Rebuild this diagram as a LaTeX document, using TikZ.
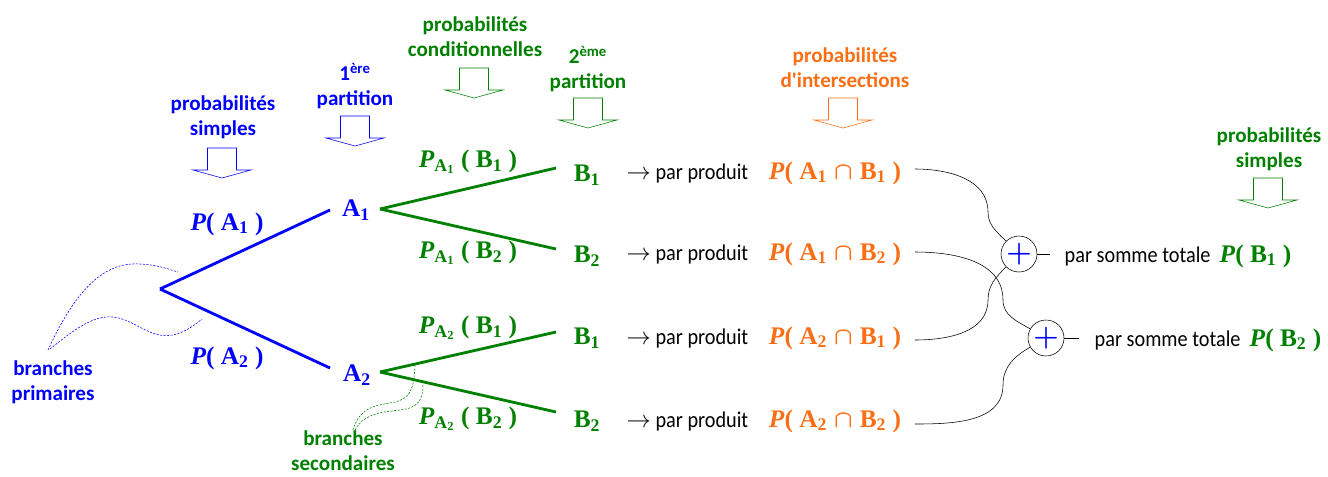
\documentclass[tikz,border=0pt]{standalone}
\usepackage{fontspec}
\setmainfont{Carlito}
\newfontfamily\tnr{Liberation Serif}
\newfontfamily\cond[FakeStretch=0.9]{Carlito}
\definecolor{bleu}{RGB}{0,0,255}
\definecolor{vert}{RGB}{0,128,0}
\definecolor{inter}{RGB}{250,110,20}
\newcommand\ind[1]{\textsubscript{#1}}
\newcommand\prob[1]{\textit{P}( #1 )}
\newcommand\inter{\;{\boldmath$\cap$}\;}
\tikzset{
  titre/.style={font=\bfseries\fontsize{15}{18}\selectfont, align=center},
  proba/.style={font=\tnr\bfseries\fontsize{18}{20}\selectfont, inner sep=1pt},
  texte/.style={font=\cond\fontsize{16}{18}\selectfont, inner sep=1pt},
  somme/.style={draw, circle, minimum size=36*0.025cm, inner sep=0pt, text=bleu, font=\huge\boldmath},
  branche/.style={line width=2pt},
  pointille/.style={thin, dash pattern=on 1.5pt off 1pt},
  fleche/.pic={\draw[pic actions] (-14.5,-30) -- (14.5,-30) -- (14.5,-8) -- (29,-8)
      -- (0,0) -- (-29,-8) -- (-14.5,-8) -- cycle;}
}
\begin{document}
\begin{tikzpicture}[x=0.025cm,y=-0.025cm]
  \useasboundingbox (0,0) rectangle (1328,476);
  % titres
  \node[titre,bleu] (t1) at (223,117) {probabilités\\simples};
  \node[titre,bleu] (t2) at (355,86) {1\textsuperscript{ère}\\partition};
  \node[titre,vert] (t3) at (475,37) {probabilités\\conditionnelles};
  \node[titre,vert] (t4) at (588,69) {2\textsuperscript{ème}\\partition};
  \node[titre,inter] (t5) at (845,68) {probabilités\\d\textquotesingle intersections};
  \node[titre,vert] (t6) at (1269,149) {probabilités\\simples};
  \pic[draw=bleu] at (222,178) {fleche};
  \pic[draw=bleu] at (355,146) {fleche};
  \pic[draw=vert] at (474,98) {fleche};
  \pic[draw=vert] at (588,128) {fleche};
  \pic[draw=inter] at (843,128) {fleche};
  \pic[draw=vert] at (1268,208) {fleche};
  % arbre
  \coordinate (r) at (160,289);
  \node[proba,bleu] (a1) at (356,210) {A\ind{1}};
  \node[proba,bleu] (a2) at (357,375) {A\ind{2}};
  \node[proba,vert] (b11) at (587,175) {B\ind{1}};
  \node[proba,vert] (b12) at (587,256) {B\ind{2}};
  \node[proba,vert] (b21) at (587,338) {B\ind{1}};
  \node[proba,vert] (b22) at (587,421) {B\ind{2}};
  \draw[branche,bleu] (r) -- (330,210);
  \draw[branche,bleu] (r) -- (330,368);
  \draw[branche,vert] (380,209) -- (556,168);
  \draw[branche,vert] (380,209) -- (556,249);
  \draw[branche,vert] (380,372) -- (556,332);
  \draw[branche,vert] (380,372) -- (556,412);
  \node[proba,bleu] (pa1) at (227,224) {\prob{A\ind{1}}};
  \node[proba,bleu] (pa2) at (227,358) {\prob{A\ind{2}}};
  \node[proba,vert] (p11) at (468,162) {\textit{P}\ind{A\ind{1}} ( B\ind{1} )};
  \node[proba,vert] (p12) at (468,253) {\textit{P}\ind{A\ind{1}} ( B\ind{2} )};
  \node[proba,vert] (p21) at (468,328) {\textit{P}\ind{A\ind{2}} ( B\ind{1} )};
  \node[proba,vert] (p22) at (468,419) {\textit{P}\ind{A\ind{2}} ( B\ind{2} )};
  % produits
  \node[texte,anchor=west] (x11) at (625,173) {$\rightarrow$ par produit};
  \node[texte,anchor=west] (x12) at (625,254) {$\rightarrow$ par produit};
  \node[texte,anchor=west] (x21) at (625,338) {$\rightarrow$ par produit};
  \node[texte,anchor=west] (x22) at (625,421) {$\rightarrow$ par produit};
  \node[proba,inter] (i11) at (835,173) {\prob{A\ind{1}\inter B\ind{1}}};
  \node[proba,inter] (i12) at (835,254) {\prob{A\ind{1}\inter B\ind{2}}};
  \node[proba,inter] (i21) at (835,338) {\prob{A\ind{2}\inter B\ind{1}}};
  \node[proba,inter] (i22) at (835,421) {\prob{A\ind{2}\inter B\ind{2}}};
  % sommes
  \node[somme] (s1) at (1019,254) {$+$};
  \node[somme] (s2) at (1046,338) {$+$};
  \draw (i11.east) ++(12,-4) coordinate (c11) to[out=0,in=90] (988,212) to[out=-90,in=135] (s1.135);
  \draw (i12.east) ++(12,-2) coordinate (c12) to[out=0,in=90] (1003,300) to[out=-90,in=150] (s2.150);
  \draw (i21.east) ++(12,2) coordinate (c21) to[out=0,in=-90] (988,300) to[out=90,in=-135] (s1.-135);
  \draw (i22.east) ++(12,3) coordinate (c22) to[out=0,in=-90] (1003,385) to[out=90,in=-150] (s2.-150);
  \draw (s1.east) -- ++(13,0) coordinate (e1);
  \draw (s2.east) -- ++(15,0) coordinate (e2);
  \node[texte,anchor=west] (tot1) at (1063,256) {par somme totale\ \ {\tnr\bfseries\fontsize{18}{20}\selectfont\color{vert}\prob{B\ind{1}}}};
  \node[texte,anchor=west] (tot2) at (1093,340) {par somme totale\ \ {\tnr\bfseries\fontsize{18}{20}\selectfont\color{vert}\prob{B\ind{2}}}};
  % legendes
  \node[titre,bleu] (bp) at (53,382) {branches\\primaires};
  \node[titre,vert] (bs) at (343,451) {branches\\secondaires};
  \draw[pointille,bleu] (48,350) .. controls (80,280) and (110,262) .. (140,264) .. controls (160,265) and (170,270) .. (178,272);
  \draw[pointille,bleu] (50,349) .. controls (80,325) and (100,310) .. (125,320) .. controls (150,330) and (165,350) .. (202,319);
  \draw[pointille,vert] (353,430) .. controls (360,405) and (380,405) .. (395,402) .. controls (410,398) and (414,390) .. (415,365);
  \draw[pointille,vert] (355,430) .. controls (365,412) and (385,412) .. (400,410) .. controls (418,408) and (423,400) .. (423,385);
\end{tikzpicture}
\end{document}
